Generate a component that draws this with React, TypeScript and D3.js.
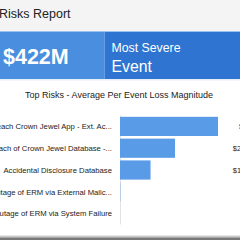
import React from "react";
import * as d3 from "d3";

const reportTitle = "Risks Report";
const headlineValue = "$422M";
const headlineLabel1 = "Most Severe";
const headlineLabel2 = "Event";
const chartTitle = "Top Risks - Average Per Event Loss Magnitude";
const categories = [
  "Breach Crown Jewel App - Ext. Ac...",
  "Breach of Crown Jewel Database -...",
  "Accidental Disclosure Database",
  "Outage of ERM via External Malic...",
  "Outage of ERM via System Failure",
];
const values = [422, 236.9, 131.5, 1.2, 0.1];
const valueLabels = ["$422M", "$236.9M", "$131.5M", "$1.2M", "$0.1M"];

const W = 240;
const H = 240;
const FONT = "'Liberation Sans', Arial, Helvetica, sans-serif";

export default function App() {
  const x = d3.scaleLinear().domain([0, 422]).range([120, 218]);
  const y = d3
    .scaleBand<string>()
    .domain(categories)
    .range([115.5, 224.5])
    .paddingInner(0.12)
    .paddingOuter(0.06);

  return (
    <svg
      width={W}
      height={H}
      style={{ position: "absolute", left: 0, top: 0, fontFamily: FONT }}
    >
      <rect x={0} y={0} width={W} height={H} fill="#ffffff" />
      <rect x={0} y={0} width={W} height={32} fill="#f4f4f4" />
      <text x={-1} y={18} fontSize={12.5} fill="#222">
        {reportTitle}
      </text>
      {/* banner */}
      <rect x={0} y={31} width={W} height={1} fill="#9cc3ef" />
      <rect x={0} y={32} width={104.5} height={47} fill="#4a8ee0" />
      <rect x={104.5} y={32} width={W - 104.5} height={47} fill="#2e74d0" />
      <rect x={0} y={79} width={W} height={1.5} fill="#e6eef8" />
      <text x={3} y={64} fontSize={21.5} fontWeight="bold" fill="#ffffff">
        {headlineValue}
      </text>
      <text x={111.5} y={52} fontSize={12.3} fill="#ffffff">
        {headlineLabel1}
      </text>
      <text x={111.5} y={72} fontSize={15.8} fill="#ffffff">
        {headlineLabel2}
      </text>
      {/* chart title */}
      <text x={119} y={97.5} fontSize={9} textAnchor="middle" fill="#222">
        {chartTitle}
      </text>
      {/* axis line */}
      <line
        x1={x(0) + 0.5}
        x2={x(0) + 0.5}
        y1={y.range()[0]}
        y2={y.range()[1]}
        stroke="#e4e4e4"
        strokeWidth={1}
      />
      {categories.map((c, i) => (
        <g key={c}>
          <rect
            x={x(0)}
            y={y(c)}
            width={Math.max(0, x(values[i]) - x(0))}
            height={y.bandwidth()}
            fill="#5a9be8"
          />
          <text
            x={112}
            y={(y(c) as number) + y.bandwidth() / 2 + 2.7}
            fontSize={7.7}
            textAnchor="end"
            fill="#222"
          >
            {c}
          </text>
          <text
            x={262}
            y={(y(c) as number) + y.bandwidth() / 2 + 2.7}
            fontSize={7.5}
            textAnchor="end"
            fill="#222"
          >
            {valueLabels[i]}
          </text>
        </g>
      ))}
      {/* bottom band */}
      <rect x={0} y={235.5} width={W} height={1} fill="#d0d0d0" />
      <rect x={0} y={236.5} width={W} height={1.5} fill="#a8a8a8" />
      <rect x={0} y={238} width={W} height={2} fill="#787878" />
    </svg>
  );
}
